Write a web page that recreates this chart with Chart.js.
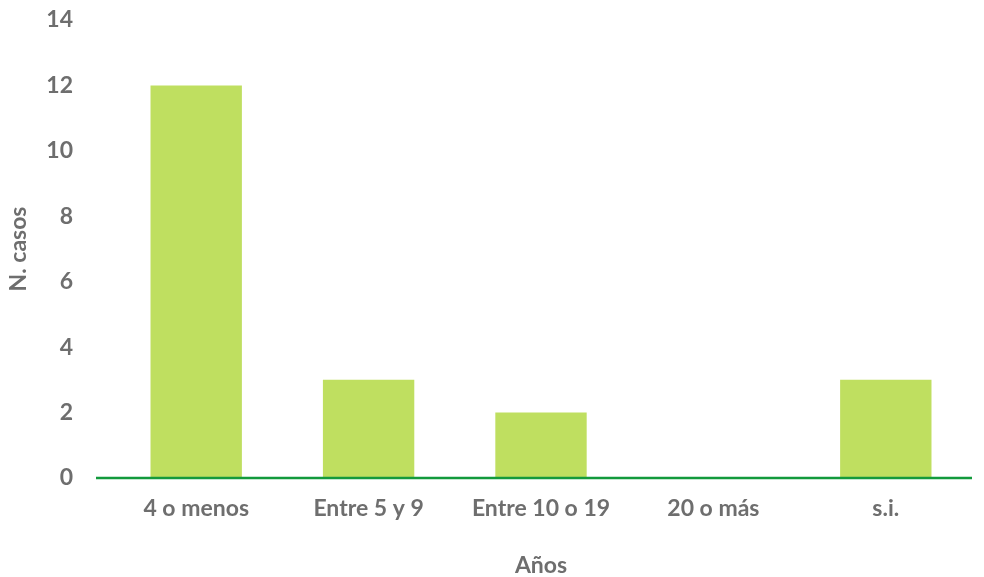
<!DOCTYPE html>
<html>
<head>
<meta charset="utf-8">
<script src="https://cdn.jsdelivr.net/npm/chart.js@4.4.1/dist/chart.umd.min.js"></script>
<style>
  body { margin: 0; background: #fff; }
</style>
</head>
<body>
<canvas id="myChart" width="984" height="577"></canvas>
<script>
// categorías y número de casos
const categorias = ['4 o menos', 'Entre 5 y 9', 'Entre 10 o 19', '20 o más', 's.i.'];
const casos = [12, 3, 2, 0, 3];
const yMax = 14;
const yPaso = 2;

const grisTexto = '#6e6e6e';
const fuente = { family: 'Lato, Carlito, Calibri, sans-serif', size: 23, weight: 'bold' };

// línea verde del eje en el valor 0, un poco más larga que el área
const lineaBase = {
  id: 'lineaBase',
  afterDatasetsDraw(chart) {
    const ctx = chart.ctx;
    const y = chart.scales.y.getPixelForValue(0);
    ctx.save();
    ctx.strokeStyle = '#139a3c';
    ctx.lineWidth = 2.5;
    ctx.beginPath();
    ctx.moveTo(96, y);
    ctx.lineTo(chart.chartArea.right, y);
    ctx.stroke();
    ctx.restore();
  }
};

const data = {
  labels: categorias,
  datasets: [{
    label: 'N. casos',
    backgroundColor: 'rgb(191, 223, 96)',
    data: casos,
    categoryPercentage: 1,
    barPercentage: 0.53
  }]
};

const config = {
  type: 'bar',
  data: data,
  plugins: [lineaBase],
  options: {
    responsive: false,
    animation: false,
    layout: { padding: { top: 0, right: 12, bottom: 0, left: 0 } },
    plugins: {
      legend: { display: false },
      tooltip: { enabled: false }
    },
    scales: {
      x: {
        grid: { display: false, drawTicks: false },
        border: { display: false },
        ticks: { color: grisTexto, font: fuente, padding: 17, maxRotation: 0 },
        title: {
          display: true, text: 'Años', color: grisTexto,
          font: Object.assign({}, fuente, { lineHeight: 1 }),
          padding: { top: 30, bottom: 0 }
        },
        afterFit(scale) { scale.height = 99; }
      },
      y: {
        min: 0,
        max: yMax,
        grid: { display: false, drawTicks: false },
        border: { display: false },
        ticks: { stepSize: yPaso, color: grisTexto, font: fuente, padding: 37 },
        title: { display: true, text: 'N. casos', color: grisTexto, font: fuente, padding: { top: 5 } },
        afterFit(scale) {
          scale.width = 110;
          // el padding de las marcas no debe empujar el área hacia abajo
          scale.paddingTop = 20;
          scale.paddingBottom = 12;
        }
      }
    }
  }
};

let myChart = new Chart(document.getElementById('myChart'), config);
</script>
</body>
</html>
